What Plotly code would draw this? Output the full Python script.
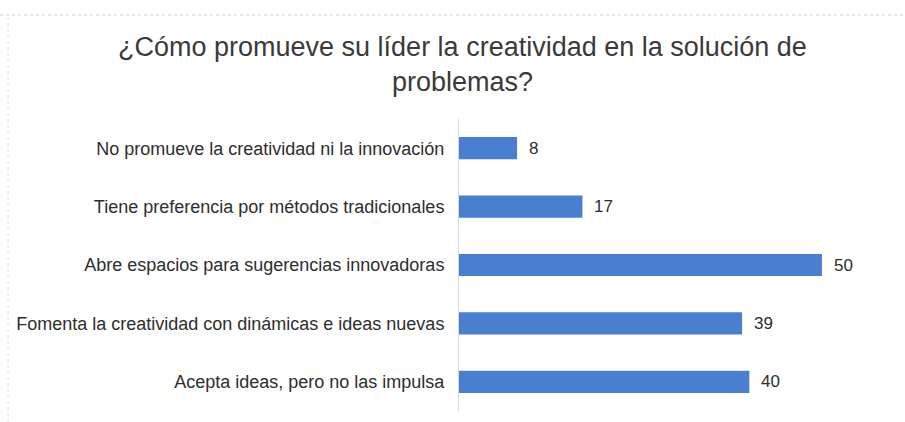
import plotly.graph_objects as go

categories = [
    "No promueve la creatividad ni la innovación",
    "Tiene preferencia por métodos tradicionales",
    "Abre espacios para sugerencias innovadoras",
    "Fomenta la creatividad con dinámicas e ideas nuevas",
    "Acepta ideas, pero no las impulsa",
]
values = [8, 17, 50, 39, 40]
title_text = "¿Cómo promueve su líder la creatividad en la solución de<br>problemas?"

FONT = "Liberation Sans, Arial, sans-serif"
BAR_COLOR = "#4a7fcf"
PLOT_W = 421
PLOT_H = 292

fig = go.Figure(
    go.Bar(
        x=values,
        y=categories,
        orientation="h",
        marker=dict(color=BAR_COLOR, line=dict(width=0)),
        hoverinfo="skip",
    )
)

for v, c in zip(values, categories):
    fig.add_annotation(
        x=v, y=c, text=str(v), showarrow=False,
        xanchor="left", xshift=10,
        font=dict(family=FONT, size=17, color="#2e2e2e"),
    )

fig.add_annotation(
    text=title_text, showarrow=False,
    xref="paper", yref="paper",
    x=3 / PLOT_W, xanchor="center",
    y=1 + (119 - 30) / PLOT_H, yanchor="top",
    font=dict(family=FONT, size=27, color="#3a3a3a"),
)

fig.update_layout(
    width=905, height=422,
    margin=dict(l=459, r=25, t=119, b=11),
    paper_bgcolor="white",
    plot_bgcolor="white",
    bargap=0.62,
    showlegend=False,
    xaxis=dict(range=[0, 58], visible=False, fixedrange=True),
    yaxis=dict(
        categoryorder="array", categoryarray=categories,
        autorange="reversed",
        showline=True, linecolor="#d4d8e0", linewidth=1,
        showgrid=False, ticks="", ticklabelstandoff=10,
        tickfont=dict(family=FONT, size=18, color="#2e2e2e"),
        fixedrange=True,
    ),
    shapes=[
        dict(type="line", xref="paper", yref="paper",
             x0=-459 / PLOT_W, x1=(905 - 459) / PLOT_W,
             y0=1 + 104 / PLOT_H, y1=1 + 104 / PLOT_H,
             line=dict(color="#c9d0dc", width=1, dash="dot")),
        dict(type="line", xref="paper", yref="paper",
             x0=-451 / PLOT_W, x1=-451 / PLOT_W,
             y0=-11 / PLOT_H, y1=1 + 104 / PLOT_H,
             line=dict(color="#dde0e6", width=1, dash="dot")),
    ],
)

fig.write_html("out.html", config={"displayModeBar": False})
